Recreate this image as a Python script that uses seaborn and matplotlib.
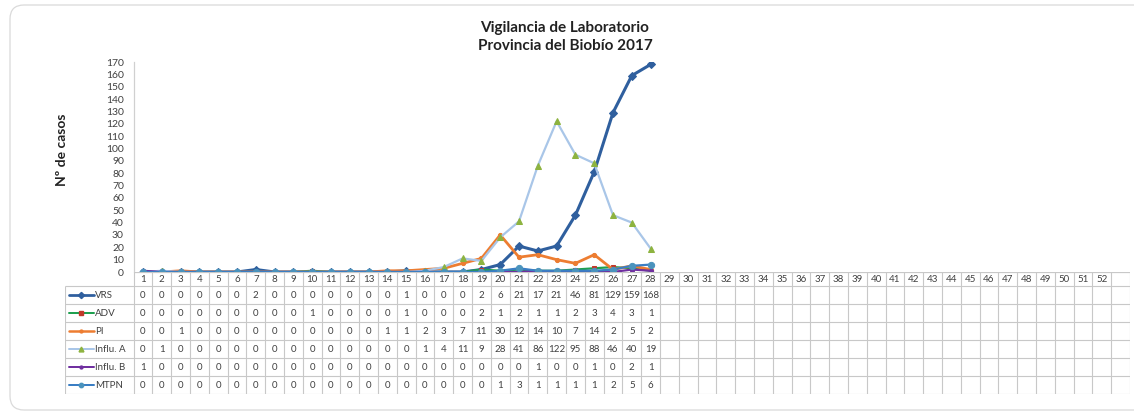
import pandas as pd
import matplotlib
matplotlib.use('Agg')
import matplotlib.pyplot as plt
from matplotlib.patches import FancyBboxPatch
from matplotlib.lines import Line2D
from matplotlib.transforms import IdentityTransform
import seaborn as sns

# data (epidemiological weeks 1-28, table runs to week 52)
weeks = list(range(1, 29))
week_labels = [str(w) for w in range(1, 53)] + ['']
series_names = ['VRS', 'ADV', 'PI', 'Influ. A', 'Influ. B', 'MTPN']
vrs = [0, 0, 0, 0, 0, 0, 2, 0, 0, 0, 0, 0, 0, 0, 1, 0, 0, 0, 2, 6, 21, 17, 21, 46, 81, 129, 159, 168]
adv = [0, 0, 0, 0, 0, 0, 0, 0, 0, 1, 0, 0, 0, 0, 1, 0, 0, 0, 2, 1, 2, 1, 1, 2, 3, 4, 3, 1]
pi = [0, 0, 1, 0, 0, 0, 0, 0, 0, 0, 0, 0, 0, 1, 1, 2, 3, 7, 11, 30, 12, 14, 10, 7, 14, 2, 5, 2]
influ_a = [0, 1, 0, 0, 0, 0, 0, 0, 0, 0, 0, 0, 0, 0, 0, 1, 4, 11, 9, 28, 41, 86, 122, 95, 88, 46, 40, 19]
influ_b = [1, 0, 0, 0, 0, 0, 0, 0, 0, 0, 0, 0, 0, 0, 0, 0, 0, 0, 0, 0, 0, 1, 0, 0, 1, 0, 2, 1]
mtpn = [0, 0, 0, 0, 0, 0, 0, 0, 0, 0, 0, 0, 0, 0, 0, 0, 0, 0, 0, 1, 3, 1, 1, 1, 1, 2, 5, 6]
series_values = [vrs, adv, pi, influ_a, influ_b, mtpn]

# styles: line colour, marker, marker colour, line width, marker size
styles = {
    'VRS': ('#2F5F9E', 'D', '#2F5F9E', 2.2, 4.5),
    'ADV': ('#1FA050', 's', '#C0392B', 1.6, 3.5),
    'PI': ('#ED7D31', 'o', '#ED7D31', 2.0, 3.0),
    'Influ. A': ('#A9C6E8', '^', '#8DB33F', 1.6, 5.0),
    'Influ. B': ('#7030A0', 'o', '#7030A0', 1.6, 3.0),
    'MTPN': ('#3A7EC4', 'o', '#4A93BD', 1.6, 4.5),
}

sns.set_theme(style='white')
plt.rcParams['font.family'] = ['Lato', 'DejaVu Sans']

W, H = 1134, 412
fig = plt.figure(figsize=(W / 100, H / 100), dpi=100)

# rounded outer frame (runs off the right edge)
fig.patches.append(FancyBboxPatch((10, 2), 1160, 405, boxstyle='round,pad=0,rounding_size=14',
                                  transform=IdentityTransform(), facecolor='none',
                                  edgecolor='#DADADA', linewidth=0.9))

plot_left, plot_right = 133.6, 1130
plot_top, plot_bottom = 62, 272
table_left, table_bottom = 65, 394
col_w = (plot_right - plot_left) / len(week_labels)

ax = fig.add_axes([plot_left / W, (H - plot_bottom) / H,
                   (plot_right - plot_left) / W, (plot_bottom - plot_top) / H])

for name, vals in zip(series_names, series_values):
    color, mk, mc, lw, ms = styles[name]
    sns.lineplot(x=weeks, y=vals, ax=ax, color=color, marker=mk, markerfacecolor=mc,
                 markeredgecolor=mc, linewidth=lw, markersize=ms, legend=False)

ax.set_xlim(0.5, len(week_labels) + 0.5)
ax.set_ylim(0, 170)
ax.set_yticks(range(0, 171, 10))
ax.set_xticks([])
ax.tick_params(axis='y', labelsize=7.5, colors='#404040', length=0, pad=7)
for s in ['top', 'right', 'bottom']:
    ax.spines[s].set_visible(False)
ax.spines['left'].set_color('#D0D0D0')
ax.spines['left'].set_linewidth(0.9)
ax.set_xlabel('')
ax.set_ylabel('')
ax.patch.set_alpha(0)

# data table below the chart
tax = fig.add_axes([table_left / W, (H - table_bottom) / H,
                    (plot_right - table_left) / W, (table_bottom - plot_bottom) / H])
x_left = 0.5 - (plot_left - table_left) / col_w
x_right = len(week_labels) + 0.5
head = 14 / 18
tax.set_xlim(x_left, x_right)
tax.set_ylim(len(series_names), -head)
tax.axis('off')

grid_c = '#C8C8C8'
tax.hlines(-head, 0.5, x_right, color=grid_c, lw=0.9)
tax.hlines(range(len(series_names) + 1), x_left, x_right, color=grid_c, lw=0.8)
tax.vlines([k + 0.5 for k in range(len(week_labels) + 1)], -head, len(series_names), color=grid_c, lw=0.8)
tax.vlines(x_left, 0, len(series_names), color=grid_c, lw=0.8)

for i, lab in enumerate(week_labels):
    tax.text(i + 1, -head / 2, lab, ha='center', va='center', fontsize=7, color='#404040')

for r, (name, vals) in enumerate(zip(series_names, series_values)):
    color, mk, mc, lw, ms = styles[name]
    yc = r + 0.5
    k0, k1 = x_left + 0.2, x_left + 1.55
    tax.add_line(Line2D([k0, (k0 + k1) / 2, k1], [yc, yc, yc], color=color, lw=lw * 0.9,
                        marker=mk, markevery=[1], markersize=ms * 0.7, markerfacecolor=mc,
                        markeredgecolor=mc))
    tax.text(x_left + 1.62, yc, name, ha='left', va='center', fontsize=7, color='#404040')
    for w, v in zip(weeks, vals):
        tax.text(w, yc, str(v), ha='center', va='center', fontsize=7, color='#404040')

fig.text(565 / W, 1 - 37 / H, 'Vigilancia de Laboratorio\nProvincia del Biobío 2017',
         ha='center', va='center', fontsize=11, fontweight='bold', linespacing=1.3, color='#222222')
fig.text(62 / W, 1 - 150 / H, 'Nº de casos', rotation=90, ha='center', va='center',
         fontsize=10, fontweight='bold', color='#222222')

fig.savefig('out.png', dpi=100)
